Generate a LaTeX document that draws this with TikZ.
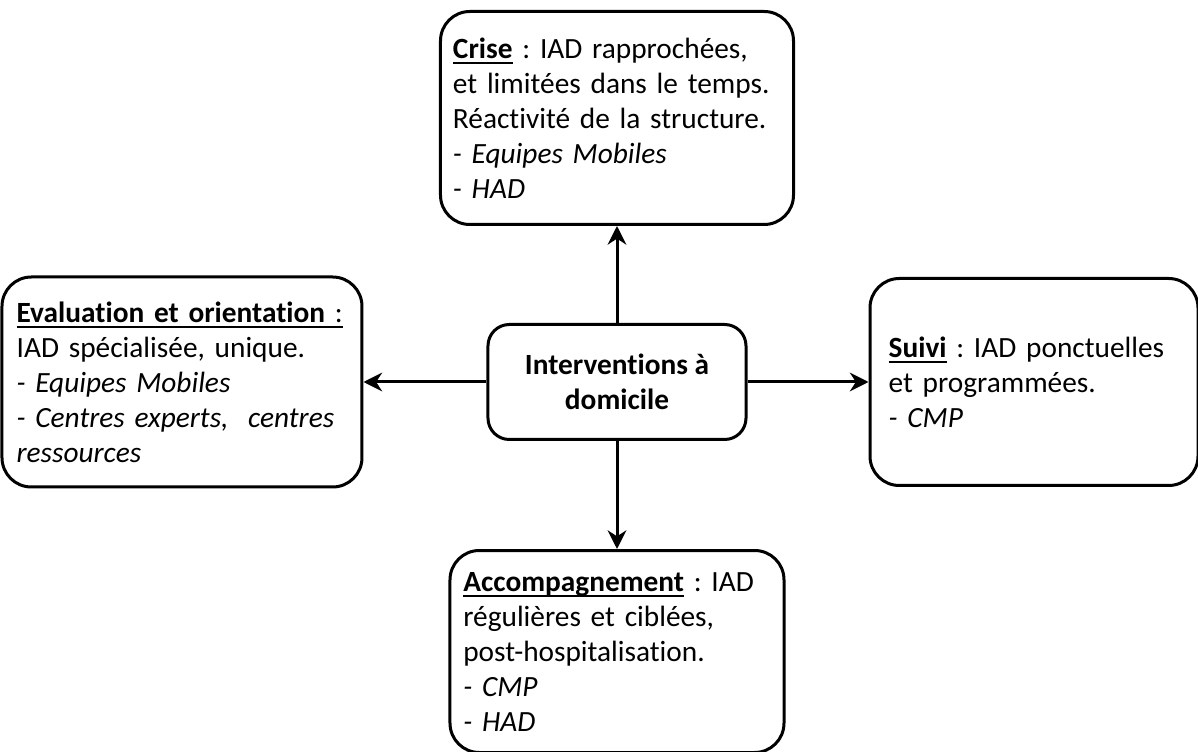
\documentclass[tikz,border=0pt]{standalone}
\usepackage{fontspec}
\setmainfont{Carlito}[Ligatures=NoCommon]
\usetikzlibrary{positioning, arrows.meta}
% underline at a fixed depth, as in the word processor
\newcommand{\souligne}[1]{\setbox0\hbox{#1}\rlap{\rule[-4.5pt]{\wd0}{1.4pt}}\box0\relax}
\newcommand{\boxfont}{\fontsize{22}{26.25}\selectfont\frenchspacing\hyphenpenalty=10000\relax}

\begin{document}
\begin{tikzpicture}[node distance=2cm,
    box/.style={draw, line width=2.25pt, rounded corners=22pt, align=left, font=\boxfont},
    arrow/.style={-{Stealth[length=14pt, width=14pt]}, line width=2.25pt}]
        \useasboundingbox (-462.75pt, 286.5pt) rectangle (435.75pt, -277.5pt);
        \node[box, rounded corners=16pt, align=center, minimum width=193.5pt, minimum height=86.25pt, font=\boxfont\bfseries] (centre) {Interventions à\\ domicile};
        \node[box, above=72.75pt of centre, minimum width=264.75pt, minimum height=159.75pt, inner xsep=9pt, text width=246pt] (crise) {\souligne{\textbf{Crise}} : IAD rapprochées,\\ et limitées dans le temps.\\ Réactivité de la structure.\\ \textit{- Equipes Mobiles}\\ \textit{- HAD}};
        \node[box, left=92.25pt of centre, minimum width=270pt, minimum height=157.5pt, inner xsep=11pt, text width=248pt] (evaluation) {\souligne{\textbf{Evaluation et orientation} :}\\ IAD spécialisée, unique.\\ \textit{- Equipes Mobiles}\\ \textit{- Centres experts,\ \ centres}\\ \textit{ressources}};
        \node[box, right=90.75pt of centre, minimum width=246pt, minimum height=155.25pt, inner xsep=14pt, text width=218pt] (suivi) {\souligne{\textbf{Suivi}} : IAD ponctuelles\\ et programmées.\\ \textit{- CMP}};
        \node[box, below=81pt of centre, minimum width=250.5pt, minimum height=151.5pt, inner xsep=10pt, text width=230.5pt] (accompagnement) {\souligne{\textbf{Accompagnement}} : IAD\\ régulières et ciblées,\\ post-hospitalisation.\\ \textit{- CMP}\\ \textit{- HAD}};
        \draw[arrow] (centre) -- (crise);
        \draw[arrow] (centre) -- (evaluation);
        \draw[arrow] (centre) -- (suivi);
        \draw[arrow] (centre) -- (accompagnement);
      \end{tikzpicture}
\end{document}
